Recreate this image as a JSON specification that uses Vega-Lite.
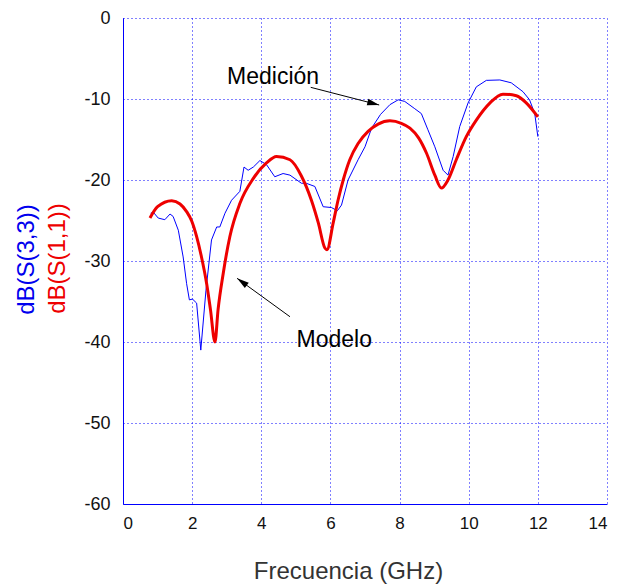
{
  "$schema": "https://vega.github.io/schema/vega-lite/v6.json",
  "width": 484,
  "height": 486,
  "autosize": {"type": "none"},
  "padding": {"left": 123, "top": 18, "right": 11, "bottom": 80},
  "config": {
    "view": {"stroke": null},
    "font": "Liberation Sans",
    "axis": {
      "labelFont": "Liberation Sans",
      "titleFont": "Liberation Sans",
      "labelColor": "#111111",
      "titleFontWeight": "normal",
      "titleFontSize": 24,
      "grid": true,
      "gridColor": "#0000ff",
      "gridDash": [1, 3],
      "gridWidth": 1,
      "gridOpacity": 1,
      "domainColor": "#0000ff",
      "domainWidth": 1,
      "ticks": false
    }
  },
  "datasets": {
    "medicion": [
      {"f": 0.80, "db": -24.1}, {"f": 0.88, "db": -24.0}, {"f": 1.02, "db": -24.7}, {"f": 1.21, "db": -24.9},
      {"f": 1.36, "db": -24.2}, {"f": 1.45, "db": -24.5}, {"f": 1.60, "db": -26.2}, {"f": 1.74, "db": -29.5},
      {"f": 1.84, "db": -32.8}, {"f": 1.92, "db": -34.8}, {"f": 2.01, "db": -34.7}, {"f": 2.13, "db": -35.2},
      {"f": 2.25, "db": -41.0}, {"f": 2.40, "db": -33.6}, {"f": 2.56, "db": -27.4}, {"f": 2.71, "db": -25.8},
      {"f": 2.80, "db": -25.8}, {"f": 2.95, "db": -24.1}, {"f": 3.14, "db": -22.5}, {"f": 3.38, "db": -21.4},
      {"f": 3.50, "db": -18.4}, {"f": 3.62, "db": -18.8}, {"f": 3.77, "db": -18.4}, {"f": 3.96, "db": -17.6},
      {"f": 4.15, "db": -18.1}, {"f": 4.39, "db": -19.6}, {"f": 4.63, "db": -19.2}, {"f": 4.83, "db": -19.4},
      {"f": 5.16, "db": -20.4}, {"f": 5.30, "db": -20.4}, {"f": 5.55, "db": -20.8}, {"f": 5.79, "db": -23.3},
      {"f": 6.03, "db": -23.4}, {"f": 6.20, "db": -23.8}, {"f": 6.32, "db": -23.1}, {"f": 6.51, "db": -20.0},
      {"f": 6.80, "db": -17.5}, {"f": 7.00, "db": -15.9}, {"f": 7.19, "db": -13.6}, {"f": 7.45, "db": -11.9},
      {"f": 7.72, "db": -10.7}, {"f": 7.96, "db": -10.1}, {"f": 8.15, "db": -10.3}, {"f": 8.44, "db": -11.2},
      {"f": 8.63, "db": -11.8}, {"f": 8.82, "db": -13.8}, {"f": 9.02, "db": -15.9}, {"f": 9.26, "db": -18.8},
      {"f": 9.40, "db": -19.4}, {"f": 9.55, "db": -17.1}, {"f": 9.74, "db": -13.4}, {"f": 9.98, "db": -10.5},
      {"f": 10.22, "db": -8.5}, {"f": 10.51, "db": -7.7}, {"f": 10.90, "db": -7.65}, {"f": 11.23, "db": -8.0},
      {"f": 11.57, "db": -9.1}, {"f": 11.76, "db": -10.1}, {"f": 11.91, "db": -11.8}, {"f": 12.0, "db": -14.65}
    ],
    "modelo": [
      {"f": 0.78, "db": -24.7}, {"f": 1.0, "db": -23.3}, {"f": 1.41, "db": -22.55}, {"f": 1.65, "db": -22.96},
      {"f": 1.84, "db": -23.9}, {"f": 1.99, "db": -25.1}, {"f": 2.13, "db": -27.0}, {"f": 2.27, "db": -29.5},
      {"f": 2.42, "db": -32.8}, {"f": 2.53, "db": -36.0}, {"f": 2.66, "db": -40.0}, {"f": 2.75, "db": -36.0},
      {"f": 2.90, "db": -31.5}, {"f": 3.09, "db": -27.0}, {"f": 3.38, "db": -22.9}, {"f": 3.77, "db": -19.8},
      {"f": 4.15, "db": -17.9}, {"f": 4.44, "db": -17.1}, {"f": 4.83, "db": -17.5}, {"f": 5.16, "db": -19.5},
      {"f": 5.45, "db": -22.5}, {"f": 5.65, "db": -25.3}, {"f": 5.84, "db": -28.4}, {"f": 5.90, "db": -28.6},
      {"f": 6.08, "db": -25.3}, {"f": 6.22, "db": -22.5}, {"f": 6.37, "db": -20.0}, {"f": 6.56, "db": -17.5},
      {"f": 6.80, "db": -15.5}, {"f": 7.09, "db": -14.0}, {"f": 7.38, "db": -13.1}, {"f": 7.72, "db": -12.7},
      {"f": 8.05, "db": -13.0}, {"f": 8.30, "db": -13.6}, {"f": 8.55, "db": -14.8}, {"f": 8.78, "db": -16.7},
      {"f": 9.02, "db": -19.4}, {"f": 9.21, "db": -21.0}, {"f": 9.40, "db": -20.0}, {"f": 9.64, "db": -17.5},
      {"f": 9.93, "db": -14.65}, {"f": 10.22, "db": -12.6}, {"f": 10.61, "db": -10.5}, {"f": 10.99, "db": -9.4},
      {"f": 11.38, "db": -9.6}, {"f": 11.67, "db": -10.5}, {"f": 12.0, "db": -12.2}
    ],
    "arrows": [
      {"label": "Medición", "f1": 5.43, "db1": -8.56, "f2": 7.41, "db2": -10.74},
      {"label": "Modelo", "f1": 4.83, "db1": -36.88, "f2": 3.30, "db2": -32.14}
    ],
    "labels": [
      {"label": "Medición", "f": 4.34, "db": -8.15},
      {"label": "Modelo", "f": 6.11, "db": -40.65}
    ]
  },
  "resolve": {"axis": {"y": "independent"}},
  "layer": [
    {
      "data": {"name": "medicion"},
      "mark": {"type": "line", "color": "#0000ff", "strokeWidth": 1},
      "encoding": {
        "x": {
          "field": "f", "type": "quantitative",
          "scale": {"domain": [0, 14], "nice": false},
          "axis": {
            "values": [0, 2, 4, 6, 8, 10, 12, 14],
            "labelExpr": "'' + datum.value",
            "labelFontSize": 17,
            "labelPadding": 11,
            "title": "Frecuencia (GHz)",
            "titleColor": "#333333",
            "titleBaseline": "alphabetic",
            "titleX": 225,
            "titleY": 74
          }
        },
        "y": {
          "field": "db", "type": "quantitative",
          "scale": {"domain": [-60, 0], "nice": false},
          "axis": {
            "orient": "left",
            "values": [-60, -50, -40, -30, -20, -10, 0],
            "labelExpr": "'' + datum.value",
            "labelFontSize": 18,
            "labelPadding": 13,
            "title": "dB(S(1,1))",
            "titleColor": "#ee0000",
            "titleBaseline": "middle",
            "titleX": -66,
            "titleY": 240,
            "titleAngle": 270
          }
        }
      }
    },
    {
      "data": {"name": "modelo"},
      "mark": {"type": "line", "color": "#ee0000", "strokeWidth": 3, "interpolate": "monotone"},
      "encoding": {
        "x": {"field": "f", "type": "quantitative"},
        "y": {
          "field": "db", "type": "quantitative",
          "axis": {
            "orient": "left",
            "labels": false,
            "domain": false,
            "grid": false,
            "title": "dB(S(3,3))",
            "titleColor": "#0000ee",
            "titleBaseline": "middle",
            "titleX": -97,
            "titleY": 241,
            "titleAngle": 270
          }
        }
      }
    },
    {
      "data": {"name": "arrows"},
      "mark": {"type": "rule", "color": "#000000", "strokeWidth": 1},
      "encoding": {
        "x": {"field": "f1", "type": "quantitative"},
        "y": {"field": "db1", "type": "quantitative", "axis": null},
        "x2": {"field": "f2"},
        "y2": {"field": "db2"}
      }
    },
    {
      "data": {"name": "arrows"},
      "transform": [{"filter": "datum.label === 'Medición'"}],
      "mark": {"type": "point", "shape": "M0,0L-2,-0.55L-2,0.55Z", "filled": true, "color": "#000000", "opacity": 1, "size": 144, "angle": 14.5},
      "encoding": {
        "x": {"field": "f2", "type": "quantitative"},
        "y": {"field": "db2", "type": "quantitative", "axis": null}
      }
    },
    {
      "data": {"name": "arrows"},
      "transform": [{"filter": "datum.label === 'Modelo'"}],
      "mark": {"type": "point", "shape": "M0,0L-2,-0.55L-2,0.55Z", "filled": true, "color": "#000000", "opacity": 1, "size": 144, "angle": 216},
      "encoding": {
        "x": {"field": "f2", "type": "quantitative"},
        "y": {"field": "db2", "type": "quantitative", "axis": null}
      }
    },
    {
      "data": {"name": "labels"},
      "mark": {"type": "text", "font": "Liberation Sans", "fontSize": 23, "color": "#000000", "align": "center", "baseline": "alphabetic"},
      "encoding": {
        "x": {"field": "f", "type": "quantitative"},
        "y": {"field": "db", "type": "quantitative", "axis": null},
        "text": {"field": "label"}
      }
    }
  ]
}
